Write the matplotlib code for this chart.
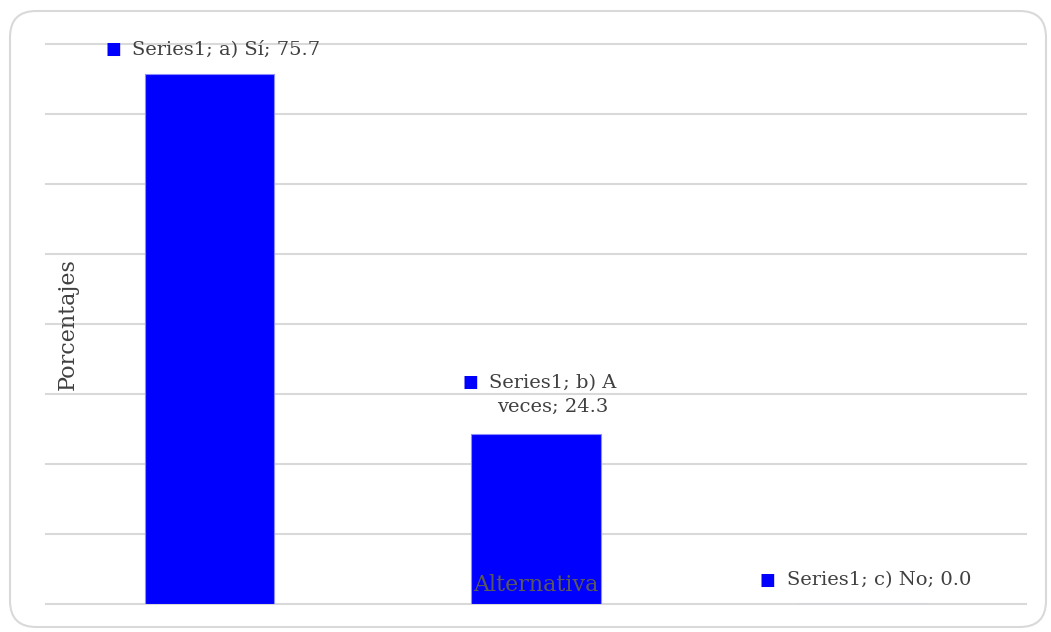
import matplotlib.pyplot as plt
from matplotlib.patches import FancyBboxPatch

# data
categories = ['a) Sí', 'b) A veces', 'c) No']
values = [75.7, 24.3, 0.0]
series_name = 'Series1'
label_texts = ['Series1; a) Sí; 75.7', 'Series1; b) A\nveces; 24.3', 'Series1; c) No; 0.0']

plt.rcParams['font.family'] = ['DejaVu Serif']
text_color = '#404040'
bar_color = '#0000ff'

fig = plt.figure(figsize=(10.51, 6.32), dpi=100)
# rounded border of the chart area
border = FancyBboxPatch((10 / 1051, 5 / 632), 1036 / 1051, 616 / 632,
                        boxstyle='round,pad=0,rounding_size=0.025',
                        transform=fig.transFigure, facecolor='none',
                        edgecolor='#d9d9d9', linewidth=1.5, mutation_aspect=1051 / 632,
                        zorder=-1)
fig.patches.append(border)

ax = fig.add_axes([46 / 1051, 28 / 632, 980 / 1051, 560 / 632])
ax.patch.set_alpha(0)
x = list(range(len(categories)))
ax.bar(x, values, width=0.395, color=bar_color, edgecolor='#8c8cff', linewidth=0.8, zorder=2)
ax.set_xlim(-0.5, 2.5)
ax.set_ylim(0, 80)
ax.set_yticks(range(0, 81, 10))
ax.grid(axis='y', color='#d9d9d9', linewidth=1.5, zorder=0)
for gl in ax.get_ygridlines():
    gl.set_clip_on(False)
ax.tick_params(left=False, bottom=False, labelleft=False, labelbottom=False)
for s in ax.spines.values():
    s.set_visible(False)

# data labels: (text x offset px, text y offset px, ha, marker x offset px, marker y offset px)
px = 72 / 100
offsets = [(-77, 25, 'left', -96, 25), (17, 39, 'center', -66, 52), (-76, 24, 'left', -95, 24)]
for i, (v, t) in enumerate(zip(values, label_texts)):
    dx, dy, ha, mx, my = offsets[i]
    ax.annotate(t, (i, v), xytext=(dx * px, dy * px), textcoords='offset points',
                ha=ha, va='center', fontsize=14, color=text_color,
                multialignment='center', linespacing=1.4, annotation_clip=False)
    ax.annotate('■', (i, v), xytext=(mx * px, my * px), textcoords='offset points',
                ha='center', va='center', fontsize=12, color=bar_color,
                family='DejaVu Sans', annotation_clip=False)

ax.text((68 - 46) / 980, 0.5, 'Porcentajes', rotation=90, transform=ax.transAxes,
        ha='center', va='center', fontsize=16, color=text_color)
ax.text(0.5, (604 - 585) / 560, 'Alternativa', transform=ax.transAxes,
        ha='center', va='center', fontsize=16, color='#595959', zorder=5)

fig.savefig('out.png', dpi=100)
